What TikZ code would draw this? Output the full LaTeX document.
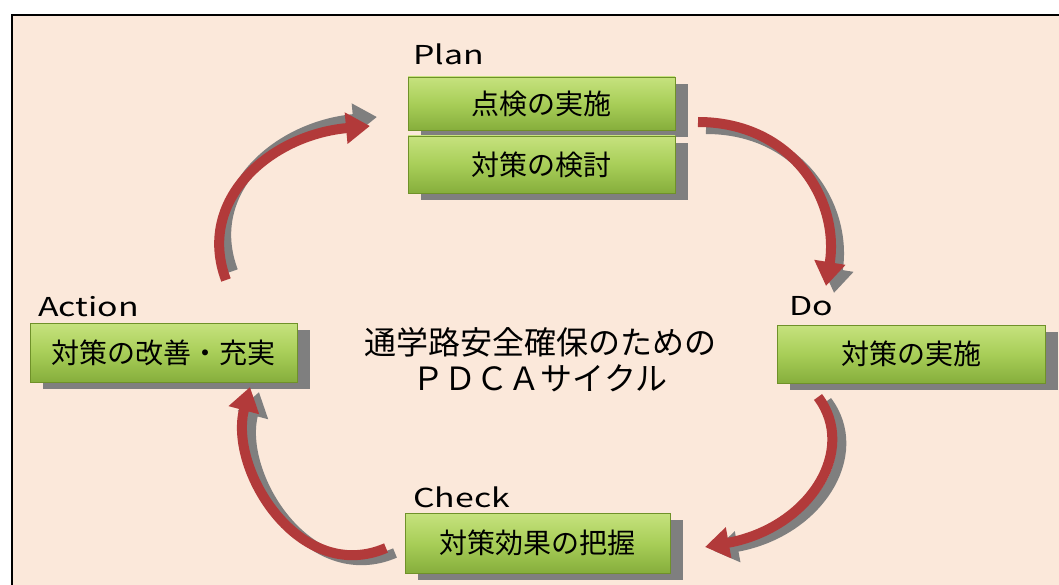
\documentclass[tikz,border=0pt]{standalone}
\usepackage{fontspec}
\setmainfont{Noto Sans CJK JP}
\newfontfamily\labfont[FakeStretch=1.3]{Noto Sans CJK JP}
\usetikzlibrary{arrows.meta,shadows}
\definecolor{bgpeach}{HTML}{FBE8DA}
\definecolor{gtop}{HTML}{C6E27E}
\definecolor{gmid}{HTML}{A8CE58}
\definecolor{gbot}{HTML}{86AE3C}
\definecolor{gedge}{HTML}{6F9129}
\definecolor{shgray}{HTML}{7F7F7F}
\definecolor{arrred}{HTML}{B23A3A}
\tikzset{
  gbox/.style={draw=gedge, line width=0.6pt, top color=gtop, bottom color=gbot, middle color=gmid,
    inner sep=0pt, font=\fontsize{28}{32}\selectfont,
    general shadow={fill=shgray, shadow xshift=13pt, shadow yshift=-7pt}},
  lab/.style={anchor=base west, inner sep=0pt, font=\labfont\fontsize{26}{30}\selectfont},
  redarrow/.style={draw=arrred, line width=10pt, -{Triangle[width=30pt,length=24pt]}},
  shadarrow/.style={draw=shgray, line width=10pt, -{Triangle[width=30pt,length=24pt]}}
}
\begin{document}
\begin{tikzpicture}[x=1pt,y=-1pt]
\useasboundingbox (0,0) rectangle (1059,585);
\clip (0,0) rectangle (1059,585);
\draw[fill=bgpeach, line width=2.5pt] (12,15) rectangle (1080,600);

% boxes
\node[gbox, minimum width=267pt, minimum height=53pt] (p1) at (541.5,103.5) {点検の実施};
\node[gbox, minimum width=267pt, minimum height=57pt] (p2) at (541.5,164.5) {対策の検討};
\node[gbox, minimum width=268pt, minimum height=58pt] (do) at (911,354) {対策の実施};
\node[gbox, minimum width=267pt, minimum height=59pt] (act) at (163.5,352.5) {対策の改善・充実};
\node[gbox, minimum width=265pt, minimum height=60pt] (chk) at (537.5,543) {対策効果の把握};

% labels
\node[lab] (plab) at (413,65) {Plan};
\node[lab] (dlab) at (789,315) {Do};
\node[lab] (alab) at (38,316) {Action};
\node[lab] (clab) at (413,507) {Check};

% title
\node[align=center, font=\fontsize{32}{36}\selectfont, inner sep=0pt] (title) at (540,360)
  {通学路安全確保のための\\ＰＤＣＡサイクル};

% arrow coordinates
\coordinate (a1) at (226,280); \coordinate (a2) at (370,126);
\coordinate (b1) at (698,122); \coordinate (b2) at (826,286);
\coordinate (c1) at (818,397); \coordinate (c2) at (705,547);
\coordinate (d1) at (386,548); \coordinate (d2) at (250,387);

% shadows
\begin{scope}[transform canvas={shift={(7pt,9pt)}}]
\draw[shadarrow] (a1) .. controls (196,200) and (270,135) .. (a2);
\end{scope}
\begin{scope}[transform canvas={shift={(8pt,-7pt)}}]
\draw[shadarrow] (b1) .. controls (792,122) and (840,200) .. (b2);
\end{scope}
\begin{scope}[transform canvas={shift={(9pt,-4pt)}}]
\draw[shadarrow] (c1) .. controls (858,450) and (810,528) .. (c2);
\end{scope}
\begin{scope}[transform canvas={shift={(9pt,-5pt)}}]
\draw[shadarrow] (d1) .. controls (300,585) and (228,470) .. (d2);
\end{scope}
% red arrows
\draw[redarrow] (a1) .. controls (196,200) and (270,135) .. (a2);
\draw[redarrow] (b1) .. controls (792,122) and (840,200) .. (b2);
\draw[redarrow] (c1) .. controls (858,450) and (810,528) .. (c2);
\draw[redarrow] (d1) .. controls (300,585) and (228,470) .. (d2);
\end{tikzpicture}
\end{document}
